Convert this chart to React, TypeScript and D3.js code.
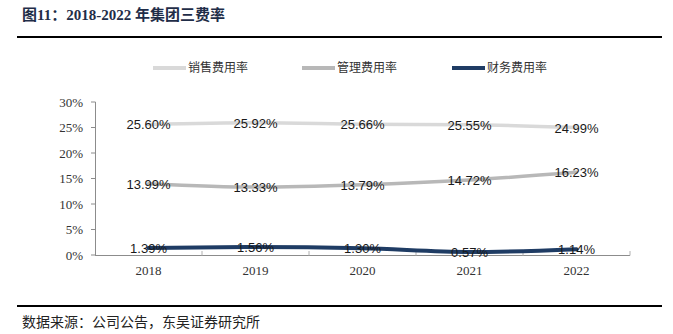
import React from "react";
import * as d3 from "d3";

const years = ["2018", "2019", "2020", "2021", "2022"];
const salesRate = [25.6, 25.92, 25.66, 25.55, 24.99];
const mgmtRate = [13.99, 13.33, 13.79, 14.72, 16.23];
const finRate = [1.39, 1.56, 1.3, 0.57, 1.14];
const seriesNames = ["销售费用率", "管理费用率", "财务费用率"];
const seriesColors = ["#d9d9d9", "#b8b8b8", "#1f3c64"];
const yTicks = [0, 5, 10, 15, 20, 25, 30];

const W = 673;
const H = 334;

export default function App() {
  const x = d3.scaleBand<string>().domain(years).range([95, 630]);
  const y = d3.scaleLinear().domain([0, 30]).range([255, 102]);
  const series = [salesRate, mgmtRate, finRate];
  const line = d3
    .line<number>()
    .x((_, i) => (x(years[i]) as number) + x.bandwidth() / 2)
    .y((d) => y(d))
    .curve(d3.curveMonotoneX);
  const serif = "'Liberation Serif', 'Times New Roman', serif";
  const sans = "'Liberation Sans', Arial, sans-serif";
  const cjk = "'Liberation Serif', 'Noto Sans CJK SC', serif";
  const legendX = [153, 302, 452];

  return (
    <svg
      width={W}
      height={H}
      style={{ position: "absolute", left: 0, top: 0, background: "#fff" }}
    >
      <text
        x={22}
        y={20}
        fontFamily={cjk}
        fontWeight="bold"
        fontSize={15}
        fill="#1f2d48"
      >
        图11：2018-2022 年集团三费率
      </text>
      <line x1={17} x2={662} y1={37} y2={37} stroke="#000" strokeWidth={2} />

      {/* legend */}
      {seriesNames.map((n, i) => (
        <g key={n}>
          <line
            x1={legendX[i]}
            x2={legendX[i] + 33}
            y1={68}
            y2={68}
            stroke={seriesColors[i]}
            strokeWidth={4}
          />
          <text
            x={legendX[i] + 35}
            y={72}
            fontFamily={"'Noto Sans CJK SC', sans-serif"}
            fontSize={12}
            fill="#333"
          >
            {n}
          </text>
        </g>
      ))}

      {/* y axis */}
      <line x1={95.5} x2={95.5} y1={102} y2={255} stroke="#8c8c8c" />
      {yTicks.map((t) => (
        <g key={t}>
          <line x1={91} x2={95.5} y1={y(t)} y2={y(t)} stroke="#8c8c8c" />
          <text
            x={83}
            y={y(t) + 4.5}
            textAnchor="end"
            fontFamily={serif}
            fontSize={13}
            fill="#333"
          >
            {t}%
          </text>
        </g>
      ))}

      {/* x axis */}
      <line x1={95} x2={630} y1={255.5} y2={255.5} stroke="#8c8c8c" />
      {years.map((yr, i) => (
        <g key={yr}>
          <line
            x1={(x(yr) as number) + x.bandwidth()}
            x2={(x(yr) as number) + x.bandwidth()}
            y1={251}
            y2={255.5}
            stroke="#b0b0b0"
          />
          <text
            x={(x(yr) as number) + x.bandwidth() / 2}
            y={275}
            textAnchor="middle"
            fontFamily={serif}
            fontSize={13}
            fill="#333"
          >
            {yr}
          </text>
        </g>
      ))}

      {/* lines */}
      {series.map((s, si) => (
        <path
          key={si}
          d={line(s) as string}
          fill="none"
          stroke={seriesColors[si]}
          strokeWidth={si === 2 ? 4 : 3.5}
          strokeLinecap="round"
        />
      ))}

      {/* data labels */}
      {series.map((s, si) =>
        s.map((v, i) => (
          <text
            key={`${si}-${i}`}
            x={(x(years[i]) as number) + x.bandwidth() / 2}
            y={y(v) + 5}
            textAnchor="middle"
            fontFamily={sans}
            fontSize={13}
            fill="#1a1a1a"
          >
            {v.toFixed(2)}%
          </text>
        ))
      )}

      <line x1={17} x2={662} y1={306} y2={306} stroke="#000" strokeWidth={2} />
      <text
        x={22}
        y={327}
        fontFamily={"'Noto Sans CJK SC', sans-serif"}
        fontSize={14}
        fill="#222"
      >
        数据来源：公司公告，东吴证券研究所
      </text>
    </svg>
  );
}
